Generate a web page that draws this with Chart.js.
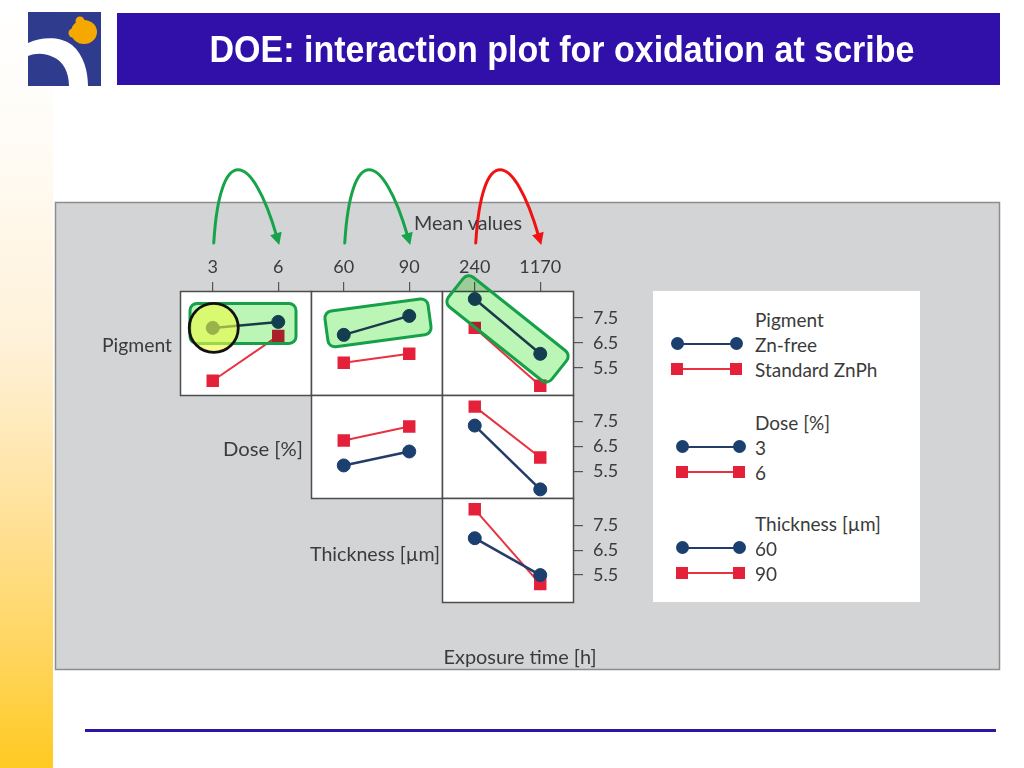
<!DOCTYPE html>
<html><head><meta charset="utf-8">
<script src="https://cdn.jsdelivr.net/npm/chart.js@4.4.1/dist/chart.umd.min.js"></script>
<style>
html,body{margin:0;padding:0;width:1024px;height:768px;overflow:hidden;background:#fff;position:relative}
.abs{position:absolute}
#sidebar{left:0;top:0;width:53px;height:768px;background:linear-gradient(to bottom,#ffffff 0%,#fffcf6 18%,#fff1d8 45%,#ffe3a0 65%,#ffd55e 85%,#ffca22 100%)}
#titlebar{left:117px;top:13px;width:883px;height:72px;background:#3010a8}
#bottomline{left:85px;top:729px;width:911px;height:3px;background:#2a16a0}
#wrap{left:0;top:0;width:1024px;height:768px;z-index:1}
#legendbox{left:653px;top:291px;width:267px;height:311px;background:#fff;z-index:2}
.lbl{position:absolute;white-space:nowrap;line-height:1;z-index:3}
.lg{position:absolute;z-index:3}
</style></head>
<body>
<div id="sidebar" class="abs"></div>
<svg class="abs" style="left:28px;top:12px" width="73" height="74" viewBox="0 0 73 74">
  <rect width="73" height="74" fill="#2f3b8c"/>
  <path d="M0,31 C12,26 30,23 44,33 C56,43 60,60 60,74 L41,74 C41,60 35,49 25,45 C16,41 8,41 0,44 Z" fill="#ffffff"/>
  <ellipse cx="56" cy="20" rx="13" ry="12" fill="#f5a900"/>
  <circle cx="52" cy="9" r="4.5" fill="#f5a900"/>
  <circle cx="45" cy="21" r="4.5" fill="#f5a900"/>
</svg>
<div id="titlebar" class="abs"></div>
<div id="bottomline" class="abs"></div>
<div id="legendbox" class="abs"></div>
<div id="wrap" class="abs"><canvas id="c" width="1024" height="768"></canvas></div>
<script>
// ---------- data ----------
const doseLevels = ['3', '6'];
const thicknessLevels = ['60', '90'];
const exposureLevels = ['240', '1170'];
const meanTicks = [5.5, 6.5, 7.5];
const meanMin = 4.42, meanMax = 8.58;

// Pigment row (Zn-free / Standard ZnPh)
const znFreeVsDose = [7.1, 7.34];
const standardVsDose = [4.98, 6.78];
const znFreeVsThickness = [6.82, 7.58];
const standardVsThickness = [5.7, 6.06];
const znFreeVsExposure = [8.26, 6.06];
const standardVsExposure = [7.1, 4.78];
// Dose row (3 % / 6 %)
const dose3VsThickness = [5.74, 6.3];
const dose6VsThickness = [6.74, 7.3];
const dose3VsExposure = [7.34, 4.78];
const dose6VsExposure = [8.1, 6.06];
// Thickness row (60 / 90 µm)
const thk60VsExposure = [6.98, 5.5];
const thk90VsExposure = [8.14, 5.14];

const titleText = 'DOE: interaction plot for oxidation at scribe';
const rowLabels = ['Pigment', 'Dose [%]', 'Thickness [µm]'];
const topTitle = 'Mean values';
const bottomTitle = 'Exposure time [h]';
const legendTitles = ['Pigment', 'Dose [%]', 'Thickness [µm]'];
const legendItems = [['Zn-free', 'Standard ZnPh'], ['3', '6'], ['60', '90']];

// ---------- styles ----------
const BLUE = '#1b3f6e', BLUE_LINE = '#233c68', RED = '#e5203a', RED_LINE = '#e8323f';
const TXT = '#3b3b3b';
const FONT = 'Lato, "Open Sans", sans-serif';

function blueSet(data, xID, yID) {
  return {data, xAxisID: xID, yAxisID: yID, borderColor: BLUE_LINE, borderWidth: 2.5,
    pointStyle: 'circle', pointRadius: 6.5, pointBackgroundColor: BLUE, pointBorderColor: BLUE, pointBorderWidth: 1};
}
function redSet(data, xID, yID) {
  return {data, xAxisID: xID, yAxisID: yID, borderColor: RED_LINE, borderWidth: 2,
    pointStyle: 'rect', pointRadius: 8.8, pointBackgroundColor: RED, pointBorderColor: RED, pointBorderWidth: 0};
}

const datasets = [
  redSet(standardVsDose, 'xDose', 'yR1'), blueSet(znFreeVsDose, 'xDose', 'yR1'),
  redSet(standardVsThickness, 'xThk', 'yR1'), blueSet(znFreeVsThickness, 'xThk', 'yR1'),
  redSet(standardVsExposure, 'xExp', 'yR1'), blueSet(znFreeVsExposure, 'xExp', 'yR1'),
  blueSet(dose3VsThickness, 'xThk', 'yR2'), redSet(dose6VsThickness, 'xThk', 'yR2'),
  blueSet(dose3VsExposure, 'xExp', 'yR2'), redSet(dose6VsExposure, 'xExp', 'yR2'),
  blueSet(thk60VsExposure, 'xExp', 'yR3'), redSet(thk90VsExposure, 'xExp', 'yR3')
];

function xAxis(labels, weight) {
  return {type: 'category', labels, position: 'top', stack: 'cols', stackWeight: 1, weight, offset: true,
    grid: {display: true, drawOnChartArea: false, drawTicks: true, tickLength: 9, offset: false, color: '#555', lineWidth: 1.2},
    border: {display: false},
    ticks: {color: TXT, font: {family: FONT, size: 18}, padding: 4, maxRotation: 0, autoSkip: false},
    afterFit(s) { s.height = 40; }};
}
function yAxis(weight) {
  return {type: 'linear', position: 'right', stack: 'rows', stackWeight: 1, weight, min: meanMin, max: meanMax,
    afterBuildTicks(s) { s.ticks = meanTicks.map(v => ({value: v})); },
    grid: {display: true, drawOnChartArea: false, tickLength: 10, color: '#555', lineWidth: 1.2},
    border: {display: false},
    ticks: {color: TXT, font: {family: FONT, size: 18}, padding: 10, callback: v => Number(v).toFixed(1)},
    afterFit(s) { s.width = 60; }};
}

// annotation styles (anchored to Zn-free series points)
const highlightBoxes = [
  {ds: 1, angle: 0, w: 106, h: 40, dx: -2.5, dy: -1.5},
  {ds: 3, angle: -7.7, w: 104, h: 36, dx: 1.5, dy: -2.5},
  {ds: 5, angle: 38.5, w: 132, h: 38, dx: 0, dy: 2.5}
];
const highlightCircle = {ds: 1, index: 0, r: 24.5};
const arrows = [{axis: 'xDose', color: '#17a34a'}, {axis: 'xThk', color: '#17a34a'}, {axis: 'xExp', color: '#f01212'}];

const panelPlugin = {
  id: 'panel',
  beforeDraw(chart) {
    const ctx = chart.ctx;
    ctx.save();
    ctx.fillStyle = '#d3d4d6';
    ctx.fillRect(55, 202, 945, 468);
    ctx.strokeStyle = '#8d8d8d'; ctx.lineWidth = 1.5;
    ctx.strokeRect(55.5, 202.5, 944, 467);
    ctx.restore();
  }
};

const cellsPlugin = {
  id: 'cells',
  beforeDatasetsDraw(chart) {
    const ctx = chart.ctx;
    const seen = new Set();
    ctx.save();
    chart.data.datasets.forEach(d => {
      const key = d.xAxisID + '|' + d.yAxisID;
      if (seen.has(key)) return;
      seen.add(key);
      const xs = chart.scales[d.xAxisID], ys = chart.scales[d.yAxisID];
      const l = Math.round(xs.left), r = Math.round(xs.right), t = Math.round(ys.top), b = Math.round(ys.bottom);
      ctx.fillStyle = '#ffffff';
      ctx.fillRect(l, t, r - l, b - t);
      ctx.strokeStyle = '#4d4d4d'; ctx.lineWidth = 1.5;
      ctx.strokeRect(l + 0.5, t + 0.5, r - l, b - t);
    });
    ctx.restore();
  }
};

const annotPlugin = {
  id: 'annot',
  afterDatasetsDraw(chart) {
    const ctx = chart.ctx;
    ctx.save();
    highlightBoxes.forEach(hb => {
      const pts = chart.getDatasetMeta(hb.ds).data;
      const cx = (pts[0].x + pts[1].x) / 2 + hb.dx, cy = (pts[0].y + pts[1].y) / 2 + hb.dy;
      ctx.save();
      ctx.translate(cx, cy);
      ctx.rotate(hb.angle * Math.PI / 180);
      ctx.beginPath();
      ctx.roundRect(-hb.w / 2, -hb.h / 2, hb.w, hb.h, 7);
      ctx.globalCompositeOperation = 'multiply';
      ctx.fillStyle = 'rgb(188,246,182)';
      ctx.fill();
      ctx.globalCompositeOperation = 'source-over';
      ctx.strokeStyle = '#16a04a'; ctx.lineWidth = 3;
      ctx.stroke();
      ctx.restore();
    });
    // circle
    const p = chart.getDatasetMeta(highlightCircle.ds).data[highlightCircle.index];
    ctx.beginPath();
    ctx.arc(p.x + 1, p.y, highlightCircle.r, 0, Math.PI * 2);
    ctx.fillStyle = 'rgba(236,250,70,0.62)';
    ctx.fill();
    ctx.strokeStyle = '#111'; ctx.lineWidth = 2.8;
    ctx.stroke();
    // arrows
    arrows.forEach(a => {
      const s = chart.scales[a.axis];
      const x0 = s.getPixelForValue(0) + 1, x1 = s.getPixelForValue(1) + 1;
      const y0 = 243, y1 = 245;
      const c1 = {x: x0 + 6, y: 143}, c2 = {x: x0 + 38, y: 150};
      const ang = Math.atan2(y1 - c2.y, x1 - c2.x);
      const L = 12, W = 6;
      const ex = x1 - Math.cos(ang) * (L - 3), ey = y1 - Math.sin(ang) * (L - 3);
      ctx.beginPath();
      ctx.moveTo(x0, y0);
      ctx.bezierCurveTo(c1.x, c1.y, c2.x, c2.y, ex, ey);
      ctx.strokeStyle = a.color; ctx.lineWidth = 3; ctx.lineCap = 'round';
      ctx.stroke();
      ctx.beginPath();
      ctx.moveTo(x1, y1);
      ctx.lineTo(x1 - Math.cos(ang) * L - Math.sin(ang) * W, y1 - Math.sin(ang) * L + Math.cos(ang) * W);
      ctx.lineTo(x1 - Math.cos(ang) * L + Math.sin(ang) * W, y1 - Math.sin(ang) * L - Math.cos(ang) * W);
      ctx.closePath();
      ctx.fillStyle = a.color;
      ctx.fill();
    });
    ctx.restore();
  }
};

new Chart(document.getElementById('c'), {
  type: 'line',
  data: {datasets},
  options: {
    responsive: false, animation: false, devicePixelRatio: 1,
    layout: {autoPadding: false, padding: {left: 180, top: 251, right: 391, bottom: 166}},
    plugins: {legend: {display: false}, title: {display: false}, tooltip: {enabled: false}},
    scales: {
      xDose: xAxis(doseLevels, 3), xThk: xAxis(thicknessLevels, 2), xExp: xAxis(exposureLevels, 1),
      yR1: yAxis(1), yR2: yAxis(2), yR3: yAxis(3)
    }
  },
  plugins: [panelPlugin, cellsPlugin, annotPlugin]
});

// ---------- HTML text ----------
function addLabel(text, x, y, anchor, target, size, opts = {}) {
  const el = document.createElement('span');
  el.className = 'lbl';
  el.textContent = text;
  el.style.fontFamily = opts.family || FONT;
  el.style.fontSize = size + 'px';
  el.style.fontWeight = opts.weight || 'normal';
  el.style.color = opts.color || TXT;
  el.style.left = x + 'px';
  el.style.top = y + 'px';
  document.body.appendChild(el);
  const w = el.getBoundingClientRect().width;
  const s = target ? target / w : 1;
  const tx = anchor === 'right' ? '-100%' : anchor === 'center' ? '-50%' : '0';
  el.style.transformOrigin = (anchor === 'right' ? 'right' : anchor === 'center' ? 'center' : 'left') + ' center';
  el.style.transform = `translate(${tx},-50%) scaleX(${s})`;
  return el;
}
addLabel(titleText, 562, 50, 'center', 705, 36, {family: '"Liberation Sans", Arial, sans-serif', weight: 'bold', color: '#ffffff'});
addLabel(rowLabels[0], 172, 344, 'right', 70, 20);
addLabel(rowLabels[1], 303, 448, 'right', 80, 20);
addLabel(rowLabels[2], 440, 553, 'right', 130, 20);
addLabel(topTitle, 468, 222, 'center', 108, 20);
addLabel(bottomTitle, 520, 656, 'center', 153, 20);

const groupTitleY = [319, 422, 523];
const lineX = [[677, 736], [682, 739], [682, 739]];
legendTitles.forEach((t, g) => {
  addLabel(t, 755, groupTitleY[g], 'left', null, 19);
  legendItems[g].forEach((it, k) => {
    const y = groupTitleY[g] + 24.5 + k * 25.5;
    addLabel(it, 755, y, 'left', null, 19);
    const col = k === 0 ? BLUE : RED;
    const [a, b] = lineX[g];
    const ln = document.createElement('div');
    ln.className = 'lg';
    ln.style.cssText += `left:${a}px;top:${y - 1}px;width:${b - a}px;height:${k === 0 ? 2 : 1.5}px;background:${k === 0 ? BLUE_LINE : RED_LINE}`;
    document.body.appendChild(ln);
    [a, b].forEach(x => {
      const m = document.createElement('div');
      m.className = 'lg';
      const sz = k === 0 ? 13 : 12;
      m.style.cssText += `left:${x - sz / 2}px;top:${y - sz / 2}px;width:${sz}px;height:${sz}px;background:${col};border-radius:${k === 0 ? '50%' : '0'}`;
      document.body.appendChild(m);
    });
  });
});
</script>
</body></html>
